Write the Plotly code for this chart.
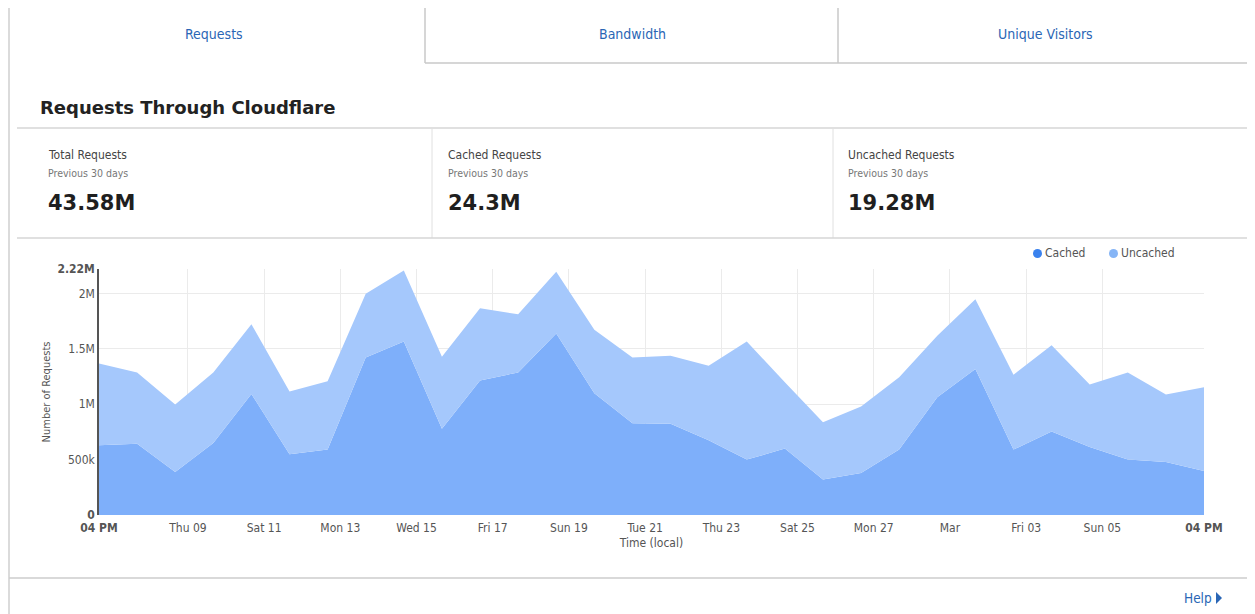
import pandas as pd
import plotly.graph_objects as go

# ---------------- data ----------------
start_time = "2017-02-06 16:00"
n_points = 30
cached = [0.629, 0.644, 0.389, 0.650, 1.093, 0.548, 0.590, 1.422, 1.566, 0.778,
          1.213, 1.287, 1.638, 1.099, 0.829, 0.823, 0.674, 0.500, 0.599, 0.320,
          0.380, 0.590, 1.063, 1.317, 0.590, 0.754, 0.614, 0.500, 0.479, 0.398]
uncached = [0.739, 0.643, 0.608, 0.637, 0.629, 0.566, 0.617, 0.575, 0.641, 0.650,
            0.652, 0.524, 0.557, 0.572, 0.593, 0.614, 0.673, 1.066, 0.599, 0.518,
            0.599, 0.653, 0.554, 0.629, 0.676, 0.779, 0.563, 0.787, 0.608, 0.755]
cached = [v * 1e6 for v in cached]
uncached = [v * 1e6 for v in uncached]

x_tick_dates = ["2017-02-06 16:00", "2017-02-09", "2017-02-11", "2017-02-13", "2017-02-15",
                "2017-02-17", "2017-02-19", "2017-02-21", "2017-02-23", "2017-02-25",
                "2017-02-27", "2017-03-01", "2017-03-03", "2017-03-05", "2017-03-07 16:00"]
x_tick_labels = ["<b>04 PM</b>", "Thu 09", "Sat 11", "Mon 13", "Wed 15", "Fri 17", "Sun 19",
                 "Tue 21", "Thu 23", "Sat 25", "Mon 27", "Mar", "Fri 03", "Sun 05", "<b>04 PM</b>"]
y_tick_vals = [0, 500000, 1000000, 1500000, 2000000, 2220000]
y_tick_labels = ["<b>0</b>", "500k", "1M", "1.5M", "2M", "<b>2.22M</b>"]

tabs = ["Requests", "Bandwidth", "Unique Visitors"]
stat_titles = ["Total Requests", "Cached Requests", "Uncached Requests"]
stat_values = ["43.58M", "24.3M", "19.28M"]

times = pd.date_range(start_time, periods=n_points, freq="D")

# ---------------- layout geometry (screen pixels) ----------------
OFF = 8  # page body margin
W, H = 1255 - OFF, 614 - OFF
PL, PR, PT, PB = 99, 1204, 269, 515


def px(x):
    return (x - PL) / (PR - PL)


def py(y):
    return (PB - y) / (PB - PT)


FONT = "DejaVu Sans Condensed, DejaVu Sans, sans-serif"
C_CACHED = "#7eaffa"
C_UNCACHED = "#a5c8fc"

fig = go.Figure()
fig.add_trace(go.Scatter(x=times, y=cached, name="Cached", stackgroup="one",
                         mode="none", fillcolor=C_CACHED, showlegend=False,
                         hoverinfo="x+y"))
fig.add_trace(go.Scatter(x=times, y=uncached, name="Uncached", stackgroup="one",
                         mode="none", fillcolor=C_UNCACHED, showlegend=False,
                         hoverinfo="x+y"))

shapes = []
ann = []
LINE = "#d4d4d4"


def hline(x0, x1, y, color=LINE, w=1):
    shapes.append(dict(type="line", xref="paper", yref="paper", x0=px(x0), x1=px(x1),
                       y0=py(y), y1=py(y), line=dict(color=color, width=w), layer="above"))


def vline(x, y0, y1, color=LINE, w=1):
    shapes.append(dict(type="line", xref="paper", yref="paper", x0=px(x), x1=px(x),
                       y0=py(y0), y1=py(y1), line=dict(color=color, width=w), layer="above"))


def text(x, y, s, size, color, xanchor="left", bold=False, family=FONT, yanchor="middle"):
    ann.append(dict(xref="paper", yref="paper", x=px(x), y=py(y), text=(f"<b>{s}</b>" if bold else s),
                    showarrow=False, xanchor=xanchor, yanchor=yanchor,
                    font=dict(size=size, color=color, family=family)))


# outer frame
vline(9, 6, 614, "#cfcfcf", 1.5)
vline(1252, 6, 614, "#dcdcdc", 1)
# tabs
hline(9, 425, 7, "#3d5a9e", 2)
hline(425, 1252, 6.5, "#d6d6d6", 1.5)
vline(425, 6, 63, "#c8c8c8", 1.5)
vline(838, 6, 63, "#c8c8c8", 1.5)
hline(425, 1252, 63, "#c8c8c8", 1.5)
tab_x = [214, 632, 1045]
for t, tx in zip(tabs, tab_x):
    text(tx, 34, t, 14, "#2a66b5", xanchor="center")

# title
text(38, 107, "Requests Through Cloudflare", 18, "#222222", bold=True, family="DejaVu Sans, sans-serif")
hline(17, 1252, 128, "#d6d6d6", 1.5)
# stats
vline(432, 128, 238, "#e0e0e0", 1)
vline(833, 128, 238, "#e0e0e0", 1)
hline(17, 1252, 238, "#d6d6d6", 1.5)
stat_x = [46, 446, 846]
for sx, st, sv in zip(stat_x, stat_titles, stat_values):
    text(sx, 155, st, 12, "#444444")
    text(sx, 173, "Previous 30 days", 10.5, "#777777")
    text(sx, 203, sv, 21, "#1f1f1f", bold=True, family="DejaVu Sans, sans-serif")

# legend
shapes.append(dict(type="circle", xref="paper", yref="paper",
                   x0=px(1033), x1=px(1042), y0=py(249), y1=py(258),
                   fillcolor="#3a82ee", line=dict(width=0)))
text(1043, 253, "Cached", 12, "#555555")
shapes.append(dict(type="circle", xref="paper", yref="paper",
                   x0=px(1109), x1=px(1118), y0=py(249), y1=py(258),
                   fillcolor="#86b5f6", line=dict(width=0)))
text(1119, 253, "Uncached", 12, "#555555")

# bottom
hline(9, 1252, 578, "#cccccc", 1.5)
text(1214, 598, "Help", 13.5, "#2a66b5", xanchor="right")
shapes.append(dict(type="path", xref="paper", yref="paper",
                   path=f"M {px(1216)},{py(592)} L {px(1216)},{py(604)} L {px(1222)},{py(598)} Z",
                   fillcolor="#2a66b5", line=dict(width=0)))

fig.update_layout(
    width=W, height=H,
    margin=dict(l=PL - OFF, r=W - (PR - OFF), t=PT - OFF, b=H - (PB - OFF), pad=0),
    paper_bgcolor="white", plot_bgcolor="white",
    shapes=shapes, annotations=ann,
    showlegend=False,
    font=dict(family=FONT, size=12, color="#555555"),
    xaxis=dict(type="date", range=[x_tick_dates[0], x_tick_dates[-1]],
               tickmode="array", tickvals=x_tick_dates, ticktext=x_tick_labels,
               showgrid=True, gridcolor="#ebebeb", gridwidth=1,
               showline=False, zeroline=False, ticks="", ticklabelstandoff=4,
               tickfont=dict(size=12, color="#555555", family=FONT),
               title=dict(text="Time (local)", font=dict(size=12, color="#555555"), standoff=4)),
    yaxis=dict(range=[0, 2220000], tickmode="array", tickvals=y_tick_vals,
               ticktext=y_tick_labels, showgrid=True, gridcolor="#ebebeb",
               showline=True, linecolor="#555555", linewidth=1.5, zeroline=False,
               ticks="", tickfont=dict(size=12, color="#555555", family=FONT),
               title=dict(text="Number of Requests", font=dict(size=11, color="#555555"), standoff=5)),
)

fig.write_html("out.html")
